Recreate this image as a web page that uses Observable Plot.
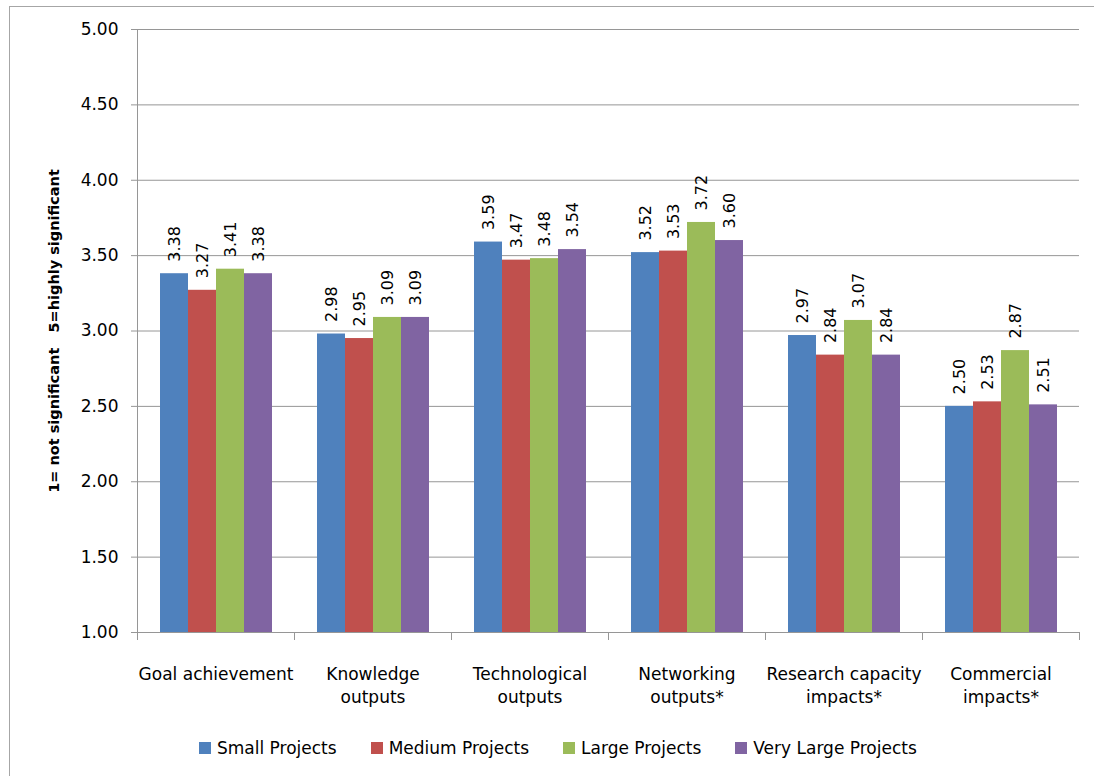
<!DOCTYPE html>
<html>
<head>
<meta charset="utf-8">
<script src="https://cdn.jsdelivr.net/npm/d3@7"></script>
<script src="https://cdn.jsdelivr.net/npm/@observablehq/plot@0.6"></script>
<style>
  body { margin: 0; background: #fff; }
  #wrap { position: relative; width: 1094px; height: 776px; overflow: hidden; font-family: "DejaVu Sans", sans-serif; }
  #chart { position: absolute; left: 0; top: 0; }
  #border { position: absolute; left: 9px; top: 6px; width: 1200px; height: 900px; border-left: 1px solid #a6a6a6; border-top: 1px solid #a6a6a6; pointer-events: none; }
  #legend { position: absolute; left: 199px; top: 737px; display: flex; gap: 34px; font-size: 17px; color: #000; line-height: 22px; }
  .item { display: flex; align-items: center; gap: 6px; white-space: nowrap; }
  .sw { width: 12px; height: 12px; }
</style>
</head>
<body>
<div id="wrap">
  <div id="chart"></div>
  <div id="legend"></div>
  <div id="border"></div>
</div>
<script>
// Outcome categories and their two-line axis labels
const categories = ["Goal achievement", "Knowledge outputs", "Technological outputs", "Networking outputs*", "Research capacity impacts*", "Commercial impacts*"];
const categoryLabels = ["Goal achievement", "Knowledge\noutputs", "Technological\noutputs", "Networking\noutputs*", "Research capacity\nimpacts*", "Commercial\nimpacts*"];

// Project size groups
const seriesNames = ["Small Projects", "Medium Projects", "Large Projects", "Very Large Projects"];
const seriesColors = ["#4F81BD", "#C0504D", "#9BBB59", "#8064A2"];

// Mean significance scores per category
const small = [3.38, 2.98, 3.59, 3.52, 2.97, 2.50];
const medium = [3.27, 2.95, 3.47, 3.53, 2.84, 2.53];
const large = [3.41, 3.09, 3.48, 3.72, 3.07, 2.87];
const veryLarge = [3.38, 3.09, 3.54, 3.60, 2.84, 2.51];

// Value axis
const yMin = 1;
const yMax = 5;
const yTicks = [1.0, 1.5, 2.0, 2.5, 3.0, 3.5, 4.0, 4.5, 5.0];
const yLabel = "1= not significant\u00a0\u00a0\u00a05=highly significant";

const seriesValues = [small, medium, large, veryLarge];
const rows = categories.flatMap((category, i) =>
  seriesNames.map((series, s) => ({category, series, value: seriesValues[s][i]}))
);

const W = 1094, H = 720, mTop = 29, mBottom = 88, mLeft = 134, mRight = 13;
const plotHeight = H - mTop - mBottom;
const axisGray = "#969696";

const chart = Plot.plot({
  width: W,
  height: H,
  marginTop: mTop,
  marginBottom: mBottom,
  marginLeft: mLeft,
  marginRight: mRight,
  style: {fontFamily: "DejaVu Sans, sans-serif", fontSize: "17px", color: "#000", background: "transparent", overflow: "visible"},
  fx: {domain: categories, padding: 0, label: null, axis: null},
  x: {domain: seriesNames, paddingInner: 0, paddingOuter: 0.75, axis: null},
  y: {domain: [yMin, yMax], axis: null},
  color: {domain: seriesNames, range: seriesColors},
  marks: [
    Plot.gridY(yTicks, {stroke: axisGray, strokeOpacity: 1}),
    Plot.barY(rows, {fx: "category", x: "series", y1: yMin, y2: "value", fill: "series"}),
    Plot.text(rows, {
      fx: "category", x: "series", y: "value",
      text: d => d.value.toFixed(2),
      rotate: -90, textAnchor: "start", dy: -12,
      fontSize: 16, fill: "#000"
    }),
    Plot.ruleY([yMin], {stroke: axisGray}),
    // vertical value-axis line
    Plot.frame({anchor: "left", stroke: axisGray, facetAnchor: "left"}),
    // category boundary ticks below the baseline
    Plot.frame({anchor: "left", stroke: axisGray, insetTop: plotHeight, insetBottom: -7}),
    Plot.frame({anchor: "right", stroke: axisGray, insetTop: plotHeight, insetBottom: -7}),
    Plot.axisY({
      ticks: yTicks, tickFormat: d3.format(".2f"), tickSize: 6, tickPadding: 13,
      stroke: axisGray, fill: "#000", label: null, fontSize: 17
    }),
    Plot.axisY({
      ticks: [], label: yLabel, labelAnchor: "center", labelOffset: 89, labelArrow: "none",
      fontWeight: "bold", fontSize: 14.5, fill: "#000"
    }),
    Plot.axisFx({
      anchor: "bottom",
      tickSize: 0, tickPadding: 31, lineHeight: 1.35, label: null, fontSize: 17, fill: "#000",
      tickFormat: d => categoryLabels[categories.indexOf(d)]
    })
  ]
});
document.getElementById("chart").appendChild(chart);

// Legend row
const legend = d3.select("#legend");
seriesNames.forEach((name, i) => {
  const item = legend.append("div").attr("class", "item");
  item.append("div").attr("class", "sw").style("background", seriesColors[i]);
  item.append("span").text(name);
});
</script>
</body>
</html>
